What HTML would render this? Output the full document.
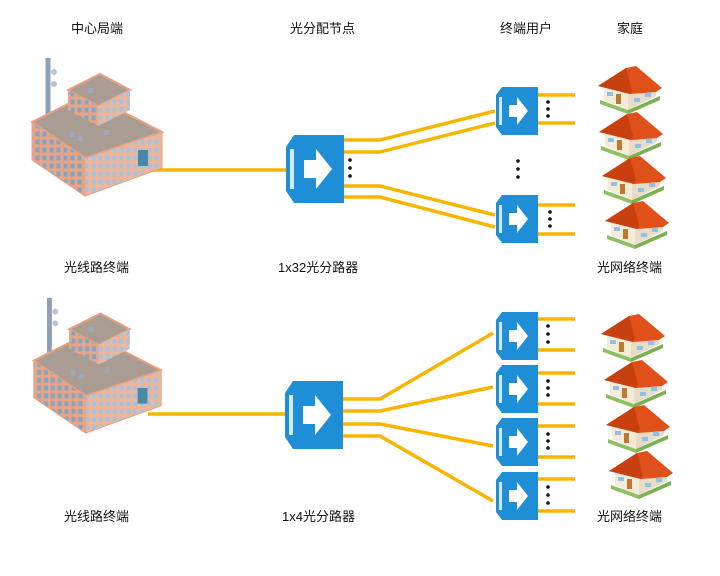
<!DOCTYPE html>
<html><head><meta charset="utf-8"><style>
body{margin:0;width:720px;height:576px;background:#fff;overflow:hidden}
svg{display:block}
text{font-family:"Liberation Sans","Noto Sans CJK SC",sans-serif;font-size:13px;fill:#111}
</style></head><body>
<svg width="720" height="576" viewBox="0 0 720 576" xmlns="http://www.w3.org/2000/svg">
<defs>
<pattern id="win" width="7" height="8" patternUnits="userSpaceOnUse">
<rect width="7" height="8" fill="#e9a486"/><rect x="1.5" y="1.5" width="4" height="5" fill="#7fa6c8"/>
</pattern>
<pattern id="win2" width="7" height="8" patternUnits="userSpaceOnUse">
<rect width="7" height="8" fill="#f2b496"/><rect x="1.5" y="1.5" width="4" height="5" fill="#9ec6e4"/>
</pattern>
<g id="bld">
<line x1="28" y1="8" x2="28" y2="76" stroke="#8da0b8" stroke-width="5"/>
<circle cx="34" cy="22" r="3" fill="#b8c4d2"/><circle cx="34" cy="34" r="3" fill="#b8c4d2"/>
<polygon points="12,72 68,44 142,82 65,108" fill="#a99d93" stroke="#eaa080" stroke-width="2"/>
<polygon points="12,72 65,108 65,146 12,110" fill="url(#win)" stroke="#eaa080" stroke-width="1"/>
<polygon points="65,108 142,82 142,118 65,146" fill="url(#win2)" stroke="#eaa080" stroke-width="1"/>
<rect x="118" y="100" width="10" height="16" fill="#4a88a8"/>
<polygon points="48,40 80,24 110,40 78,56" fill="#a99d93" stroke="#eaa080" stroke-width="2"/>
<polygon points="48,40 78,56 78,76 48,60" fill="url(#win)"/>
<polygon points="78,56 110,40 110,60 78,76" fill="url(#win2)"/>
<rect x="68" y="38" width="5" height="5" fill="#9aa8c0"/>
<rect x="50" y="82" width="5" height="5" fill="#9aa8c0"/><rect x="58" y="86" width="5" height="5" fill="#9aa8c0"/>
<rect x="84" y="80" width="5" height="5" fill="#9aa8c0"/>
</g>
<g id="spl">
<path d="M8,0 H58 V68 H8 L0,56 V12 Z" fill="#1e8fd6"/>
<path d="M4,14 H8 V54 H4 Z" fill="#fff" opacity="0.8"/>
<path d="M18,25 H30 V14 L46,34 L30,54 V43 H18 Z" fill="#fff"/>
</g>
<g id="sm">
<path d="M6,0 H42 V48 H6 L0,40 V8 Z" fill="#1e8fd6"/>
<path d="M3,10 H6 V38 H3 Z" fill="#fff" opacity="0.8"/>
<path d="M13,18 H21 V10 L32,24 L21,38 V30 H13 Z" fill="#fff"/>
</g>
<g id="house">
<polygon points="4,34 32,44 32,48 4,38" fill="#8cc060"/>
<polygon points="32,44 64,30 64,34 32,48" fill="#7ab050"/>
<polygon points="8,18 32,26 32,44 8,34" fill="#f3ead8"/>
<polygon points="32,26 60,16 60,30 32,44" fill="#e8dcc4"/>
<rect x="20" y="28" width="5" height="10" fill="#c07830"/>
<rect x="11" y="26" width="6" height="4" fill="#8fc0e8"/><rect x="38" y="32" width="6" height="4" fill="#8fc0e8"/><rect x="49" y="27" width="6" height="4" fill="#8fc0e8"/>
<polygon points="2,20 30,2 40,0 66,22 60,26 34,28" fill="#e0501a"/>
<polygon points="2,20 30,2 36,24 34,28" fill="#c94010"/>
</g>
</defs>

<text x="71" y="33">中心局端</text>
<text x="290" y="33">光分配节点</text>
<text x="500" y="33">终端用户</text>
<text x="617" y="33">家庭</text>
<text x="64" y="272">光线路终端</text>
<text x="278" y="272">1x32光分路器</text>
<text x="597" y="272">光网络终端</text>
<text x="64" y="521">光线路终端</text>
<text x="282" y="521">1x4光分路器</text>
<text x="597" y="521">光网络终端</text>

<g stroke="#f7b500" stroke-width="3.5" fill="none">
<line x1="148" y1="170" x2="288" y2="170"/>
<polyline points="344,140 380,140 495,111"/><polyline points="344,152 380,152 495,123"/>
<polyline points="344,186 380,186 495,215"/><polyline points="344,197 380,197 495,227"/>
<line x1="538" y1="95" x2="575" y2="95"/><line x1="538" y1="123" x2="575" y2="123"/>
<line x1="538" y1="205" x2="575" y2="205"/><line x1="538" y1="234" x2="575" y2="234"/>
<line x1="148" y1="414" x2="288" y2="414"/>
<polyline points="343,399 380,399 493,333"/><polyline points="343,411 380,411 493,387"/>
<polyline points="343,424 380,424 493,446"/><polyline points="343,436 380,436 493,501"/>
<line x1="538" y1="319" x2="575" y2="319"/><line x1="538" y1="350" x2="575" y2="350"/>
<line x1="538" y1="373" x2="575" y2="373"/><line x1="538" y1="404" x2="575" y2="404"/>
<line x1="538" y1="426" x2="575" y2="426"/><line x1="538" y1="457" x2="575" y2="457"/>
<line x1="538" y1="479" x2="575" y2="479"/><line x1="538" y1="511" x2="575" y2="511"/>
</g>

<use href="#bld" x="20" y="50"/>
<use href="#bld" transform="translate(22,290) scale(0.98)"/>
<use href="#spl" x="286" y="135"/>
<use href="#spl" x="285" y="381"/>
<use href="#sm" x="496" y="87"/><use href="#sm" x="496" y="195"/>
<use href="#sm" x="496" y="312"/><use href="#sm" x="496" y="365"/>
<use href="#sm" x="496" y="418"/><use href="#sm" x="496" y="472"/>

<g fill="#111">
<circle cx="548" cy="102" r="1.8"/><circle cx="548" cy="109" r="1.8"/><circle cx="548" cy="116" r="1.8"/>
<circle cx="350" cy="160" r="1.8"/><circle cx="350" cy="168" r="1.8"/><circle cx="350" cy="176" r="1.8"/>
<circle cx="518" cy="161" r="1.8"/><circle cx="518" cy="169" r="1.8"/><circle cx="518" cy="177" r="1.8"/>
<circle cx="550" cy="212" r="1.8"/><circle cx="550" cy="219" r="1.8"/><circle cx="550" cy="226" r="1.8"/>
<circle cx="548" cy="326" r="1.8"/><circle cx="548" cy="334" r="1.8"/><circle cx="548" cy="342" r="1.8"/>
<circle cx="548" cy="381" r="1.8"/><circle cx="548" cy="388" r="1.8"/><circle cx="548" cy="395" r="1.8"/>
<circle cx="548" cy="434" r="1.8"/><circle cx="548" cy="441" r="1.8"/><circle cx="548" cy="448" r="1.8"/>
<circle cx="548" cy="487" r="1.8"/><circle cx="548" cy="495" r="1.8"/><circle cx="548" cy="503" r="1.8"/>
</g>

<use href="#house" x="596" y="66"/><use href="#house" x="597" y="112"/>
<use href="#house" x="600" y="156"/><use href="#house" x="603" y="201"/>
<use href="#house" x="599" y="314"/><use href="#house" x="602" y="360"/>
<use href="#house" x="604" y="405"/><use href="#house" x="607" y="451"/>
</svg>
</body></html>
